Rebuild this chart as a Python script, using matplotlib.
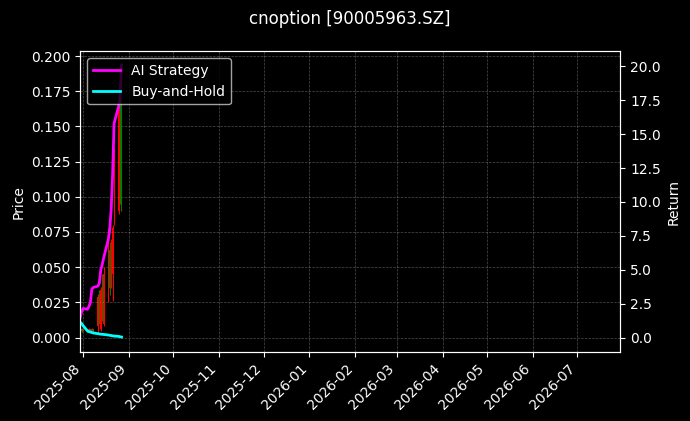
import matplotlib
matplotlib.use("Agg")
import matplotlib.pyplot as plt
import matplotlib.dates as mdates
import numpy as np
import pandas as pd

## daily bars for the option
dates = ["2025-07-30", "2025-07-31", "2025-08-01", "2025-08-04", "2025-08-05",
         "2025-08-06", "2025-08-07", "2025-08-08", "2025-08-11", "2025-08-12",
         "2025-08-13", "2025-08-14", "2025-08-15", "2025-08-18", "2025-08-19",
         "2025-08-20", "2025-08-21", "2025-08-22", "2025-08-25", "2025-08-26",
         "2025-08-27"]

opens  = [0.005, 0.005, 0.006, 0.005, 0.006, 0.005, 0.006, 0.005, 0.029, 0.012,
          0.034, 0.015, 0.045, 0.060, 0.035, 0.065, 0.078, 0.130, 0.170, 0.100, 0.110]
highs  = [0.006, 0.007, 0.007, 0.006, 0.007, 0.006, 0.007, 0.006, 0.031, 0.034,
          0.036, 0.045, 0.050, 0.078, 0.068, 0.070, 0.080, 0.135, 0.175, 0.194, 0.170]
lows   = [0.004, 0.004, 0.005, 0.004, 0.005, 0.004, 0.005, 0.004, 0.004, 0.010,
          0.005, 0.012, 0.008, 0.025, 0.030, 0.035, 0.026, 0.080, 0.088, 0.095, 0.090]
closes = [0.005, 0.006, 0.005, 0.006, 0.005, 0.006, 0.005, 0.006, 0.008, 0.030,
          0.006, 0.035, 0.010, 0.030, 0.062, 0.038, 0.045, 0.085, 0.090, 0.165, 0.150]

# normalised equity curves (right axis)
ai_strategy  = [1.45, 1.9, 2.15, 2.1, 2.3, 2.6, 3.6, 3.7, 3.8, 4.0, 5.0, 5.4, 5.9,
                7.2, 7.9, 9.4, 12.0, 15.8, 17.0, 17.6, 20.1]
buy_and_hold = [1.15, 1.05, 0.9, 0.5, 0.45, 0.42, 0.38, 0.35, 0.3, 0.28, 0.26, 0.25,
                0.24, 0.2, 0.18, 0.16, 0.14, 0.12, 0.1, 0.07, 0.05]

title = "cnoption [90005963.SZ]"

plt.style.use("dark_background")
x = pd.to_datetime(dates)

fig, ax1 = plt.subplots(figsize=(6.9, 4.21), dpi=100)
fig.subplots_adjust(left=0.116, right=0.899, top=0.878, bottom=0.164)

# candles: wick + body
o = np.array(opens)
c = np.array(closes)
colors = np.where(c >= o, "green", "red")
ax1.vlines(x, lows, highs, colors=colors, linewidth=0.8)
ax1.bar(x, np.abs(c - o), bottom=np.minimum(o, c), width=0.6, color=colors)
ax1.set_ylabel("Price")
ax1.set_ylim(-0.0102, 0.2033)
ax1.grid(True, linestyle="--", linewidth=0.5, alpha=0.3)

ax2 = ax1.twinx()
ax2.plot(x, ai_strategy, color="magenta", linewidth=2, label="AI Strategy")
ax2.plot(x, buy_and_hold, color="cyan", linewidth=2, label="Buy-and-Hold")
ax2.set_ylabel("Return")
ax2.set_ylim(-1.05, 21.1)
ax2.legend(loc="upper left")

start = x[0]
ax1.set_xlim(start, start + pd.Timedelta(days=365))
ax1.xaxis.set_major_locator(mdates.MonthLocator())
ax1.xaxis.set_major_formatter(mdates.DateFormatter("%Y-%m"))
plt.setp(ax1.get_xticklabels(), rotation=45, ha="right")

ax1.set_title(title, pad=20)
fig.savefig("out.png")
